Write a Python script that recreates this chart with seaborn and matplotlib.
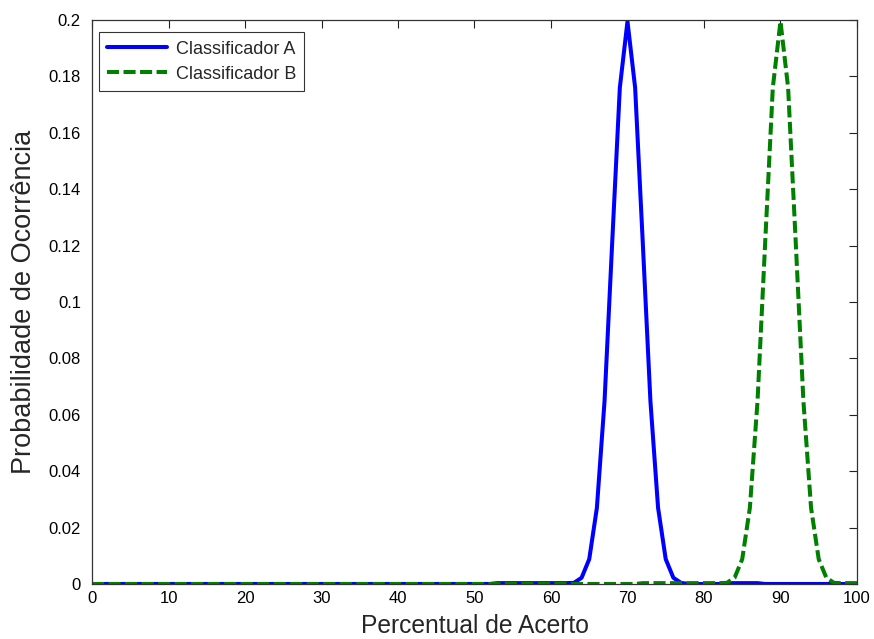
import matplotlib
matplotlib.use("Agg")
import matplotlib.pyplot as plt
import seaborn as sns
import pandas as pd

# Data (x = percentual de acerto, 0..100)
percentual = list(range(0, 101))

prob_a = [
    0, 0, 0, 0, 0, 0, 0, 0, 0, 0,            # 0-9
    0, 0, 0, 0, 0, 0, 0, 0, 0, 0,            # 10-19
    0, 0, 0, 0, 0, 0, 0, 0, 0, 0,            # 20-29
    0, 0, 0, 0, 0, 0, 0, 0, 0, 0,            # 30-39
    0, 0, 0, 0, 0, 0, 0, 0, 0, 0,            # 40-49
    0, 0, 0, 0.0003, 0.0003, 0.0003, 0.0003, 0.0003, 0.0003, 0.0003,   # 50-59
    0.0003, 0.0003, 0.0003, 0.0004, 0.0022, 0.0088, 0.0270, 0.0648, 0.1210, 0.1760,  # 60-69
    0.1995, 0.1760, 0.1210, 0.0648, 0.0270, 0.0088, 0.0022, 0.0004, 0, 0,  # 70-79
    0, 0, 0, 0.0003, 0.0003, 0.0003, 0.0003, 0.0003, 0, 0,  # 80-89
    0, 0, 0, 0, 0, 0, 0, 0, 0, 0,            # 90-99
    0,                                        # 100
]

prob_b = [
    0, 0, 0, 0, 0, 0, 0, 0, 0, 0,            # 0-9
    0, 0, 0, 0, 0, 0, 0, 0, 0, 0,            # 10-19
    0, 0, 0, 0, 0, 0, 0, 0, 0, 0,            # 20-29
    0, 0, 0, 0, 0, 0, 0, 0, 0, 0,            # 30-39
    0, 0, 0, 0, 0, 0, 0, 0, 0, 0,            # 40-49
    0, 0, 0, 0, 0, 0, 0, 0, 0, 0,            # 50-59
    0, 0, 0, 0, 0, 0, 0, 0, 0, 0,            # 60-69
    0, 0, 0.0003, 0.0003, 0.0003, 0.0003, 0.0003, 0.0003, 0.0003, 0.0003,  # 70-79
    0.0003, 0.0003, 0.0003, 0.0004, 0.0022, 0.0088, 0.0270, 0.0648, 0.1210, 0.1760,  # 80-89
    0.1995, 0.1760, 0.1210, 0.0648, 0.0270, 0.0088, 0.0022, 0.0004, 0.0003, 0.0003,  # 90-99
    0.0003,                                   # 100
]

series_names = ["Classificador A", "Classificador B"]
x_ticks = [0, 10, 20, 30, 40, 50, 60, 70, 80, 90, 100]
y_ticks = [0, 0.02, 0.04, 0.06, 0.08, 0.1, 0.12, 0.14, 0.16, 0.18, 0.2]
y_tick_labels = ["0", "0.02", "0.04", "0.06", "0.08", "0.1", "0.12", "0.14", "0.16", "0.18", "0.2"]

df = pd.DataFrame({
    "Percentual": percentual * 2,
    "Prob": prob_a + prob_b,
    "Serie": [series_names[0]] * len(percentual) + [series_names[1]] * len(percentual),
})

sns.set_style("white")
plt.rcParams["font.family"] = ["Liberation Sans", "DejaVu Sans"]

fig = plt.figure(figsize=(8.74, 6.39), dpi=100)
ax = fig.add_axes([0.1053, 0.0861, 0.8752, 0.8826])

sns.lineplot(
    data=df, x="Percentual", y="Prob", hue="Serie", style="Serie",
    palette={series_names[0]: "#0000ff", series_names[1]: "#008000"},
    dashes={series_names[0]: "", series_names[1]: (3, 1.1)},
    linewidth=2.9, ax=ax, legend=True,
)

ax.set_xlim(0, 100)
ax.set_ylim(0, 0.2)
ax.set_xticks(x_ticks)
ax.set_yticks(y_ticks)
ax.set_yticklabels(y_tick_labels)
for lab in ax.get_xticklabels() + ax.get_yticklabels():
    lab.set_fontsize(12)
ax.tick_params(axis="both", direction="in", length=6, width=0.8, top=True, right=True,
               colors="#222222", labelcolor="black")
ax.tick_params(axis="y", pad=8)
ax.tick_params(axis="x", pad=5)
for sp in ax.spines.values():
    sp.set_visible(True)
    sp.set_color("#333333")
    sp.set_linewidth(0.9)

ax.set_xlabel("Percentual de Acerto", fontsize=17.7, labelpad=6)
ax.set_ylabel("Probabilidade de Ocorrência", fontsize=19.5, labelpad=8)

leg = ax.legend(loc="upper left", bbox_to_anchor=(0.009, 0.978), frameon=True,
                fancybox=False, edgecolor="black", fontsize=13,
                handlelength=3.3, borderpad=0.45, labelspacing=0.45,
                handletextpad=0.5, borderaxespad=0.0)
leg.get_frame().set_linewidth(0.8)
for line in leg.get_lines():
    line.set_linewidth(2.9)

fig.savefig("out.png", dpi=100, facecolor="white")
